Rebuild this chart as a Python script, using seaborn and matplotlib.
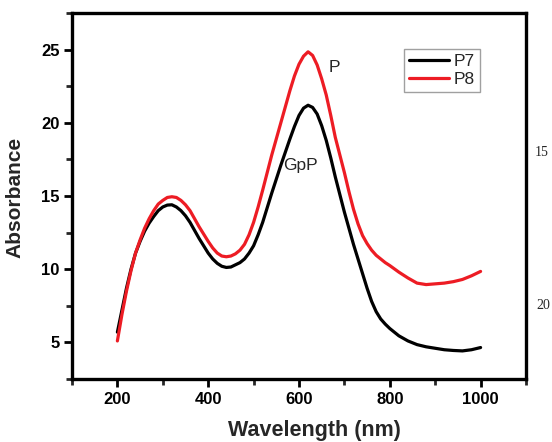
import numpy as np
import pandas as pd
import matplotlib
matplotlib.use("Agg")
import matplotlib.pyplot as plt
from matplotlib.ticker import MultipleLocator
import seaborn as sns

# Absorption spectra of the two samples
wavelength = [200, 210, 220, 230, 240, 250, 260, 270, 280, 290, 300, 310, 320,
              330, 340, 350, 360, 370, 380, 390, 400, 410, 420, 430, 440, 450,
              460, 470, 480, 490, 500, 510, 520, 530, 540, 550, 560, 570, 580,
              590, 600, 610, 620, 630, 640, 650, 660, 670, 680, 690, 700, 710,
              720, 730, 740, 750, 760, 770, 780, 790, 800, 820, 840, 860, 880,
              900, 920, 940, 960, 980, 1000]
p7 = [5.7, 7.2, 8.7, 10.0, 11.1, 11.9, 12.6, 13.15, 13.6, 14.0, 14.25, 14.38,
      14.4, 14.25, 14.0, 13.65, 13.2, 12.65, 12.1, 11.6, 11.1, 10.7, 10.4,
      10.2, 10.12, 10.15, 10.3, 10.45, 10.7, 11.1, 11.6, 12.35, 13.2, 14.2,
      15.2, 16.15, 17.1, 18.0, 18.9, 19.75, 20.5, 21.0, 21.2, 21.05, 20.6,
      19.8, 18.8, 17.6, 16.3, 15.1, 13.9, 12.8, 11.7, 10.7, 9.7, 8.7, 7.8,
      7.1, 6.6, 6.25, 5.95, 5.45, 5.1, 4.85, 4.7, 4.6, 4.5, 4.45, 4.42, 4.5,
      4.65]
p8 = [5.1, 6.9, 8.5, 9.9, 11.1, 12.0, 12.8, 13.45, 14.0, 14.45, 14.7, 14.9,
      14.95, 14.9, 14.7, 14.4, 14.0, 13.45, 12.9, 12.4, 11.9, 11.45, 11.1,
      10.9, 10.85, 10.9, 11.05, 11.3, 11.7, 12.35, 13.2, 14.25, 15.4, 16.6,
      17.8, 18.9, 20.0, 21.1, 22.2, 23.2, 24.0, 24.55, 24.85, 24.6, 23.95,
      23.0, 21.9, 20.5, 19.0, 17.8, 16.6, 15.3, 14.1, 13.1, 12.3, 11.75, 11.3,
      10.95, 10.7, 10.45, 10.25, 9.8, 9.4, 9.05, 8.95, 9.0, 9.05, 9.15, 9.3,
      9.55, 9.85]
series_names = ["P7", "P8"]
series_colors = ["#000000", "#ed1c24"]

df = pd.DataFrame({
    "Wavelength": wavelength * 2,
    "Absorbance": p7 + p8,
    "Sample": [series_names[0]] * len(p7) + [series_names[1]] * len(p8),
})

sns.set_style("ticks")
plt.rcParams["font.family"] = ["Liberation Sans", "DejaVu Sans"]

fig = plt.figure(figsize=(5.52, 4.42), dpi=100)
ax = fig.add_axes([0.1304, 0.1425, 0.8225, 0.8281])

sns.lineplot(data=df, x="Wavelength", y="Absorbance", hue="Sample",
             palette=dict(zip(series_names, series_colors)), linewidth=2.3,
             ax=ax, sort=True)
for line in ax.get_lines():
    line.set_solid_joinstyle("round")
    line.set_solid_capstyle("round")

ax.set_xlim(100, 1100)
ax.set_ylim(2.5, 27.5)
ax.set_xticks([200, 400, 600, 800, 1000])
ax.xaxis.set_minor_locator(MultipleLocator(100))
ax.yaxis.set_minor_locator(MultipleLocator(2.5))
ax.set_yticks([5, 10, 15, 20, 25])

for side in ["top", "right", "bottom", "left"]:
    ax.spines[side].set_visible(True)
    ax.spines[side].set_linewidth(2.4)
    ax.spines[side].set_color("black")

ax.tick_params(which="major", direction="out", length=6, width=2,
               labelsize=12, pad=3, colors="black")
ax.tick_params(which="minor", direction="out", length=4, width=2)
for lbl in ax.get_xticklabels() + ax.get_yticklabels():
    lbl.set_fontweight("bold")

ax.set_xlabel("Wavelength (nm)", fontsize=15.5, fontweight="bold")
ax.set_ylabel("Absorbance", fontsize=15, fontweight="bold")
ax.xaxis.set_label_coords(0.533, -0.112)
ax.yaxis.set_label_coords(-0.104, 0.495)

ax.text(677, 23.75, "P", fontsize=12.5, ha="center", va="center")
ax.text(604, 17.05, "GpP", fontsize=12.5, ha="center", va="center")

leg = ax.legend(loc="upper left", bbox_to_anchor=(0.731, 0.902),
                borderaxespad=0, fontsize=12.5, frameon=True, fancybox=False,
                handlelength=2.3, handletextpad=0.25, borderpad=0.3,
                labelspacing=0.15)
leg.get_frame().set_edgecolor("#888888")
leg.get_frame().set_linewidth(1.0)
leg.set_title(None)

fig.text(0.982, 0.654, "15", fontsize=10, family="Liberation Serif",
         ha="center", va="center")
fig.text(0.984, 0.308, "20", fontsize=10, family="Liberation Serif",
         ha="center", va="center")

fig.savefig("out.png", dpi=100)
